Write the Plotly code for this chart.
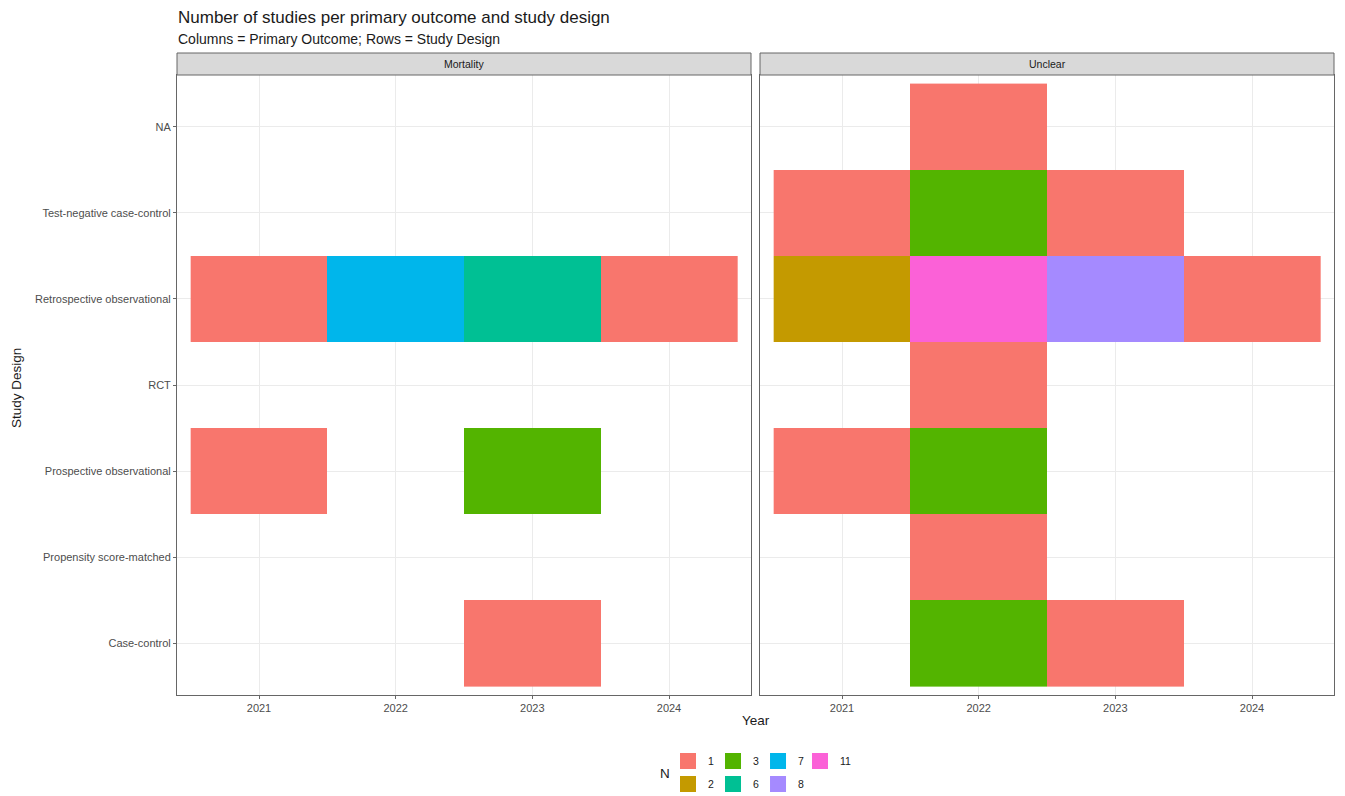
import plotly.graph_objects as go

# data
years = [2021, 2022, 2023, 2024]
designs = ["Case-control", "Propensity score-matched", "Prospective observational",
           "RCT", "Retrospective observational", "Test-negative case-control", "NA"]
n_levels = [1, 2, 3, 6, 7, 8, 11]
n_colors = ["#F8766D", "#C49A00", "#53B400", "#00C094", "#00B6EB", "#A58AFF", "#FB61D7"]
outcomes = ["Mortality", "Unclear"]

# counts per design (rows, bottom to top) and year (columns); None = no studies
mortality = [
    [None, None, 1, None],    # Case-control
    [None, None, None, None], # Propensity score-matched
    [1, None, 3, None],       # Prospective observational
    [None, None, None, None], # RCT
    [1, 7, 6, 1],             # Retrospective observational
    [None, None, None, None], # Test-negative case-control
    [None, None, None, None], # NA
]
unclear = [
    [None, 3, 1, None],
    [None, 1, None, None],
    [1, 3, None, None],
    [None, 1, None, None],
    [2, 11, 8, 1],
    [1, 3, 1, None],
    [None, 1, None, None],
]

# the page body has an 8px margin, so the figure is drawn 8px in from the corner
OFF = 8
W, H = 1345 - 2 * OFF, 796 - OFF


def px_x(v):
    return (v - OFF) / W


def px_y(v):
    return 1 - (v - OFF) / H


# discrete colour scale: index of N level -> colour
k = len(n_levels)
colorscale = []
for i, c in enumerate(n_colors):
    colorscale.append([i / k, c])
    colorscale.append([(i + 1) / k, c])


def to_index(mat):
    return [[None if v is None else n_levels.index(v) for v in row] for row in mat]


fig = go.Figure()

for j, mat in enumerate([mortality, unclear]):
    sfx = "" if j == 0 else "2"
    fig.add_trace(go.Heatmap(
        x=years, y=designs, z=to_index(mat),
        customdata=mat,
        colorscale=colorscale, zmin=-0.5, zmax=k - 0.5,
        showscale=False,
        hovertemplate="Year %{x}<br>%{y}<br>N = %{customdata}<extra></extra>",
        xaxis="x" + sfx, yaxis="y" + sfx,
    ))

# legend entries, laid out in two rows like the ggplot guide
legend_of = {1: "legend", 3: "legend", 7: "legend", 11: "legend3",
             2: "legend2", 6: "legend2", 8: "legend2"}
for lvl, c in zip(n_levels, n_colors):
    fig.add_trace(go.Scatter(
        x=[None], y=[None], mode="markers", name=str(lvl),
        marker=dict(symbol="square", size=22, color=c),
        legend=legend_of[lvl], showlegend=True,
    ))

dom_l = [px_x(177), px_x(751)]
dom_r = [px_x(760), px_x(1334)]
dom_y = [px_y(695), px_y(75)]

xax = dict(range=[2020.4, 2024.6], tickvals=years, showgrid=True, gridcolor="#EBEBEB",
           gridwidth=1, zeroline=False, showline=True, linecolor="#666666", linewidth=1,
           mirror=True, ticks="outside", ticklen=3, tickcolor="#666666",
           tickfont=dict(size=11, color="#4D4D4D"))
yax = dict(type="category", categoryarray=designs, range=[-0.6, len(designs) - 0.4],
           showgrid=True, gridcolor="#EBEBEB", gridwidth=1, zeroline=False,
           showline=True, linecolor="#666666", linewidth=1, mirror=True,
           ticks="outside", ticklen=3, tickcolor="#666666",
           tickfont=dict(size=11, color="#4D4D4D"))

leg = dict(orientation="h", xanchor="left", yanchor="middle",
           font=dict(size=10.5, color="#1A1A1A"), entrywidth=0.01, itemsizing="trace",
           bgcolor="rgba(0,0,0,0)")

fig.update_layout(
    width=W, height=H,
    margin=dict(l=0, r=0, t=0, b=0, autoexpand=False),
    paper_bgcolor="white", plot_bgcolor="white",
    font=dict(family="Liberation Sans, Arial, sans-serif", color="#1A1A1A"),
    xaxis=dict(xax, domain=dom_l, anchor="y"),
    xaxis2=dict(xax, domain=dom_r, anchor="y2"),
    yaxis=dict(yax, domain=dom_y, anchor="x"),
    yaxis2=dict(yax, domain=dom_y, anchor="x2", showticklabels=False, ticks=""),
    legend=dict(leg, x=px_x(668), y=px_y(761)),
    legend2=dict(leg, x=px_x(668), y=px_y(784)),
    legend3=dict(leg, x=px_x(800), y=px_y(761), entrywidth=20),
)

# facet strips
for dom, label in zip([dom_l, dom_r], outcomes):
    fig.add_shape(type="rect", xref="paper", yref="paper",
                  x0=dom[0], x1=dom[1], y0=px_y(75), y1=px_y(53),
                  fillcolor="#D9D9D9", line=dict(color="#666666", width=1))
    fig.add_annotation(text=label, xref="paper", yref="paper",
                       x=(dom[0] + dom[1]) / 2, y=px_y(64), showarrow=False,
                       xanchor="center", yanchor="middle",
                       font=dict(size=10.5, color="#1A1A1A"))

# titles
fig.add_annotation(text="Number of studies per primary outcome and study design",
                   xref="paper", yref="paper", x=px_x(176), y=px_y(18),
                   xanchor="left", yanchor="middle", showarrow=False,
                   font=dict(size=17, color="#1A1A1A"))
fig.add_annotation(text="Columns = Primary Outcome; Rows = Study Design",
                   xref="paper", yref="paper", x=px_x(176), y=px_y(39),
                   xanchor="left", yanchor="middle", showarrow=False,
                   font=dict(size=14, color="#1A1A1A"))
fig.add_annotation(text="Year", xref="paper", yref="paper", x=px_x(756), y=px_y(720),
                   xanchor="center", yanchor="middle",
                   showarrow=False, font=dict(size=13.5, color="#1A1A1A"))
fig.add_annotation(text="Study Design", xref="paper", yref="paper", x=px_x(16), y=px_y(388),
                   xanchor="center", yanchor="middle",
                   textangle=-90, showarrow=False, font=dict(size=13.5, color="#1A1A1A"))
fig.add_annotation(text="N", xref="paper", yref="paper", x=px_x(665), y=px_y(773),
                   xanchor="center", yanchor="middle",
                   showarrow=False, font=dict(size=13.5, color="#1A1A1A"))

fig.write_html("out.html")
